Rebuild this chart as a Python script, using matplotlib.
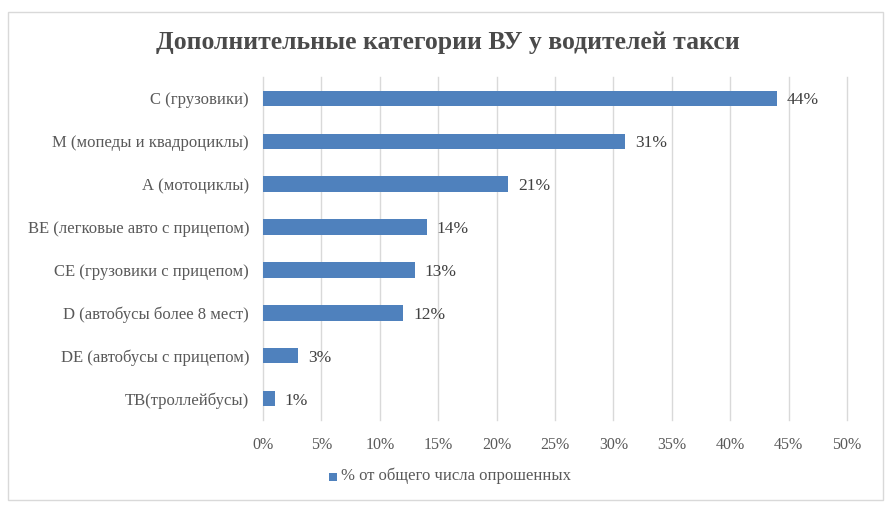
import matplotlib.pyplot as plt
from matplotlib.patches import Rectangle

plt.rcParams['font.family'] = ['Liberation Serif', 'DejaVu Serif']

categories = ['С (грузовики)', 'M (мопеды и квадроциклы)', 'А (мотоциклы)',
              'BE (легковые авто с прицепом)', 'CE (грузовики с прицепом)',
              'D (автобусы более 8 мест)', 'DE (автобусы с прицепом)', 'TB(троллейбусы)']
values = [44, 31, 21, 14, 13, 12, 3, 1]
xticks = [0, 5, 10, 15, 20, 25, 30, 35, 40, 45, 50]
series_name = '% от общего числа опрошенных'

bar_color = '#4F81BD'
txt = '#595959'

fig = plt.figure(figsize=(8.96, 5.12), dpi=100)
fig.patches.append(Rectangle((8/896, 12/512), 875/896, 488/512, transform=fig.transFigure,
                             fill=False, edgecolor='#D9D9D9', lw=1))

ax = fig.add_axes([263/896, 1-420/512, 584/896, 343/512])
y = list(range(len(categories)))
ax.barh(y, values, height=0.36, color=bar_color, zorder=3)
for yi, v in zip(y, values):
    ax.text(v + 0.85, yi, f'{v}%', va='center_baseline', ha='left', fontsize=12.5, color='#404040')

ax.set_ylim(len(categories) - 0.5, -0.5)
ax.set_xlim(0, 50)
ax.set_yticks(y)
ax.set_yticklabels(categories, fontsize=12, color=txt)
ax.set_xticks(xticks)
ax.set_xticklabels([f'{t}%' for t in xticks], fontsize=11.5, color=txt)
ax.tick_params(length=0)
ax.tick_params(axis='y', pad=10)
ax.tick_params(axis='x', pad=12)
ax.grid(axis='x', color='#D9D9D9', lw=1, zorder=0)
for gl in ax.get_xgridlines():
    gl.set_clip_on(False)
for s in ax.spines.values():
    s.set_visible(False)

fig.text(0.5, 1-42/512, 'Дополнительные категории ВУ у водителей такси', ha='center', va='center',
         fontsize=18.5, fontweight='bold', color='#4a4a4a')

fig.patches.append(Rectangle((329/896, 1-481/512), 8/896, 8/512, transform=fig.transFigure,
                             facecolor=bar_color, edgecolor='none'))
fig.text(341/896, 1-476/512, series_name, ha='left', va='center', fontsize=12, color=txt)

fig.savefig('out.png', dpi=100)
